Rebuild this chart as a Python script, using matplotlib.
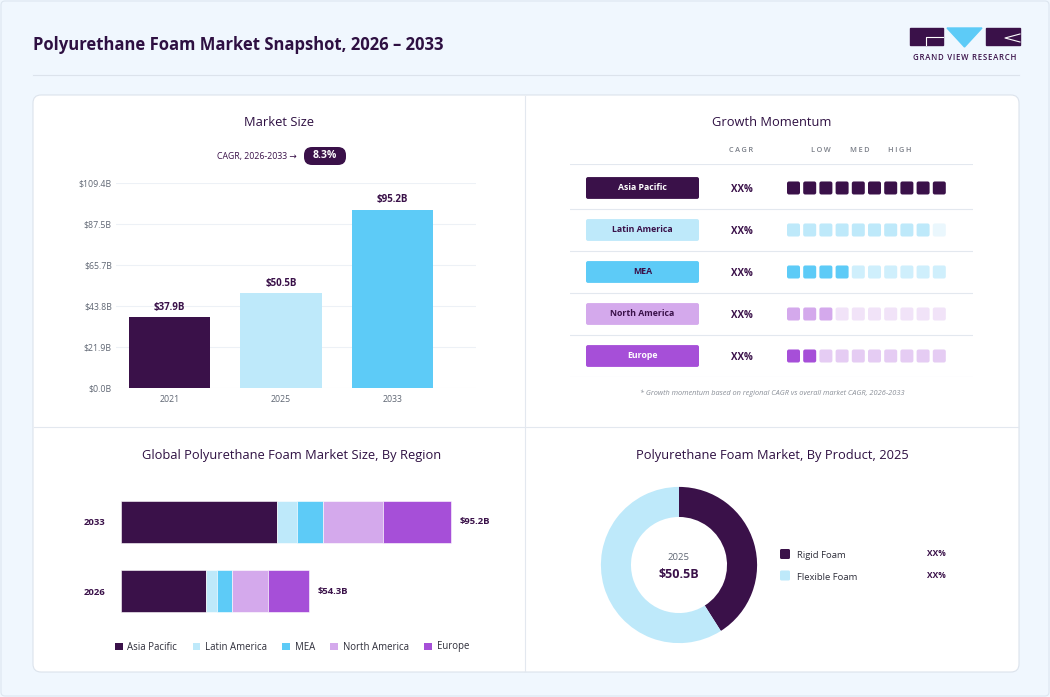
import matplotlib
matplotlib.use("Agg")
import matplotlib.pyplot as plt
from matplotlib.patches import FancyBboxPatch, Polygon, Patch

plt.rcParams["font.family"] = ["Open Sans", "DejaVu Sans"]

# ── Data ──────────────────────────────────────────────
YEARS = ["2021", "2025", "2033"]
MARKET_SIZE = [37.9, 50.5, 95.2]
Y_TICKS = [0.0, 21.9, 43.8, 65.7, 87.5, 109.4]
CAGR_TEXT = "CAGR, 2026-2033 \u2192"
CAGR_VALUE = "8.3%"

REGIONS = ["Asia Pacific", "Latin America", "MEA", "North America", "Europe"]
MOMENTUM_FILLED = [10, 9, 4, 3, 2]
MOMENTUM_CAGR = ["XX%", "XX%", "XX%", "XX%", "XX%"]
MOMENTUM_HEADERS = ["CAGR", "LOW", "MED", "HIGH"]

STACK_YEARS = ["2026", "2033"]
REGION_2026 = [24.5, 3.2, 4.4, 10.2, 12.0]
REGION_2033 = [45.0, 5.9, 7.5, 17.1, 19.7]
STACK_TOTALS = ["$54.3B", "$95.2B"]

PRODUCTS = ["Rigid Foam", "Flexible Foam"]
PRODUCT_SHARE = [41, 59]
PRODUCT_LABELS = ["XX%", "XX%"]
DONUT_YEAR = "2025"
DONUT_TOTAL = "$50.5B"

# ── Visual style ──────────────────────────────────────
DARK = "#3A1149"
TITLE = "#2E1042"
LIGHT_BLUE = "#BEE9FA"
BLUE = "#5DCBF7"
LAVENDER = "#D4A9EC"
PURPLE = "#A64FD8"
REGION_COLORS = [DARK, LIGHT_BLUE, BLUE, LAVENDER, PURPLE]
MOMENTUM_EMPTY = [DARK, "#EAF7FD", "#CFEFFC", "#F1E3F8", "#E5CCF3"]
PILL_TEXT = ["white", DARK, DARK, DARK, "white"]
BAR_COLORS = [DARK, LIGHT_BLUE, BLUE]
LINE = "#E3E8EF"
GREY = "#5F6673"

W, H = 1050, 697
fig = plt.figure(figsize=(W / 100, H / 100), dpi=100)
fig.patch.set_facecolor("#F0F7FE")


def px_axes(x0, y0, x1, y1, **kw):
    return fig.add_axes([x0 / W, 1 - y1 / H, (x1 - x0) / W, (y1 - y0) / H], **kw)


# background / layout layer in pixel coordinates
bg = px_axes(0, 0, W, H)
bg.set_xlim(0, W)
bg.set_ylim(H, 0)
bg.axis("off")
bg.add_patch(FancyBboxPatch((1, 1), W - 2, H - 2, boxstyle="round,pad=0,rounding_size=4",
                            facecolor="#F0F7FE", edgecolor="#DDE6F0", lw=0.8))
bg.add_patch(FancyBboxPatch((33, 95), 986, 577, boxstyle="round,pad=0,rounding_size=8",
                            facecolor="white", edgecolor="#DCE3EC", lw=0.8))
bg.plot([33, 1019], [75, 75], color="#DCE3EC", lw=0.8)
bg.plot([525, 525], [96, 671], color=LINE, lw=0.8)
bg.plot([34, 1018], [427, 427], color=LINE, lw=0.8)

bg.text(33, 45, "Polyurethane Foam Market Snapshot, 2026 \u2013 2033", fontsize=12,
        fontweight="bold", color=TITLE, ha="left", va="center")

# logo
bg.add_patch(Polygon([(910, 28), (943, 28), (943, 45), (910, 45)], closed=True, color=DARK))
bg.plot([926, 926, 943], [45, 37, 37], color="white", lw=0.8)
bg.add_patch(Polygon([(947, 28), (982, 28), (964.5, 47)], closed=True, color=BLUE))
bg.add_patch(Polygon([(986, 28), (1020, 28), (1020, 45), (986, 45)], closed=True, color=DARK))
bg.plot([1020, 1005, 1020], [34, 38, 42], color="white", lw=0.8)
bg.text(965, 57, "\u200a".join("GRAND VIEW RESEARCH"), fontsize=5.6, color=DARK,
        ha="center", va="center", fontweight="semibold")

# panel titles
for x, y, t in [(279, 123, "Market Size"), (772, 123, "Growth Momentum"),
                (292, 456, "Global Polyurethane Foam Market Size, By Region"),
                (772, 456, "Polyurethane Foam Market, By Product, 2025")]:
    bg.text(x, y, t, fontsize=9.3, color=TITLE, ha="center", va="center",
            fontweight="medium")

# ── Market size bars ──────────────────────────────────
bg.text(297, 156, CAGR_TEXT, fontsize=6.3, color=DARK, ha="right", va="center")
bg.add_patch(FancyBboxPatch((304, 147), 42, 18, boxstyle="round,pad=0,rounding_size=8",
                            facecolor=DARK, edgecolor="none"))
bg.text(325, 156, CAGR_VALUE, fontsize=7.5, color="white", fontweight="bold",
        ha="center", va="center")

ax1 = px_axes(116, 183, 476, 388)
x = range(len(YEARS))
ax1.bar(x, MARKET_SIZE, width=0.73, color=BAR_COLORS, zorder=3)
for i, v in enumerate(MARKET_SIZE):
    ax1.annotate(f"${v}B", (i, v), xytext=(0, 3), textcoords="offset points",
                 ha="center", va="bottom", fontsize=7, fontweight="bold", color=DARK)
ax1.set_xlim(-0.48, 2.75)
ax1.set_ylim(0, 109.4)
ax1.set_xticks(list(x), YEARS)
ax1.set_yticks(Y_TICKS, [f"${v:.1f}B" for v in Y_TICKS])
ax1.tick_params(length=0, labelsize=6.3, colors=GREY)
ax1.tick_params(axis="x", pad=5)
ax1.tick_params(axis="y", pad=3)
ax1.grid(axis="y", color="#EDF1F6", lw=0.8, zorder=0)
for s in ax1.spines.values():
    s.set_visible(False)
ax1.set_facecolor("none")

# ── Growth momentum table ─────────────────────────────
for t, xh in zip(MOMENTUM_HEADERS, [741, 821, 860, 900]):
    bg.text(xh, 151, "\u2009".join(t), fontsize=5.3, color="#7A7F88", ha="center",
            va="center", fontweight="semibold")

ax2 = px_axes(570, 164, 973, 377)
ax2.set_xlim(0, 403)
ax2.set_ylim(4.5, -0.571)
ax2.axis("off")
ax2.axhline(-0.571, color=LINE, lw=0.8)
asp = 1 / 42
for i, region in enumerate(REGIONS):
    ax2.axhline(i + 0.5, color=LINE, lw=0.8)
    ax2.add_patch(FancyBboxPatch((16, i - 0.26), 113, 0.52,
                                 boxstyle="round,pad=0,rounding_size=2",
                                 mutation_aspect=asp, facecolor=REGION_COLORS[i],
                                 edgecolor="none"))
    ax2.text(72.5, i, region, fontsize=6.3, fontweight="bold", color=PILL_TEXT[i],
             ha="center", va="center")
    ax2.text(172, i + 0.03, MOMENTUM_CAGR[i], fontsize=7, fontweight="bold", color=DARK,
             ha="center", va="center")
    for j in range(10):
        c = REGION_COLORS[i] if j < MOMENTUM_FILLED[i] else MOMENTUM_EMPTY[i]
        ax2.add_patch(FancyBboxPatch((217 + j * 16.2, i - 0.155), 13, 0.31,
                                     boxstyle="round,pad=0,rounding_size=2",
                                     mutation_aspect=asp, facecolor=c, edgecolor="none"))

bg.text(772, 393, "* Growth momentum based on regional CAGR vs overall market CAGR, 2026-2033",
        fontsize=5.3, style="italic", color="#8A8F98", ha="center", va="center")

# ── Stacked region bars ───────────────────────────────
ax3 = px_axes(121, 470, 471, 643)
ax3.set_xlim(0, 101.0)
ax3.set_ylim(-0.75, 1.75)
left = [0.0, 0.0]
for k, color in enumerate(REGION_COLORS):
    vals = [REGION_2026[k], REGION_2033[k]]
    ax3.barh([0, 1], vals, left=left, height=0.61, color=color,
             edgecolor="white", linewidth=0.4)
    left = [left[0] + vals[0], left[1] + vals[1]]
for yi, (tot, lab) in enumerate(zip(left, STACK_TOTALS)):
    ax3.annotate(lab, (tot, yi), xytext=(6, 0), textcoords="offset points",
                 ha="left", va="center", fontsize=6.8, fontweight="bold", color=DARK)
ax3.set_yticks([0, 1], STACK_YEARS)
ax3.set_xticks([])
ax3.tick_params(length=0, pad=11.5, labelsize=6.8, labelcolor=DARK)
for lbl in ax3.get_yticklabels():
    lbl.set_fontweight("bold")
for s in ax3.spines.values():
    s.set_visible(False)
ax3.set_facecolor("none")

handles = [Patch(facecolor=c, edgecolor="none") for c in REGION_COLORS]
fig.legend(handles, REGIONS, loc="center", bbox_to_anchor=(292 / W, 1 - 647 / H), ncol=5,
           frameon=False, fontsize=6.9, handlelength=0.8, handleheight=0.8,
           columnspacing=1.6, handletextpad=0.5, labelcolor="#2E2E3A")

# ── Product donut ─────────────────────────────────────
ax4 = px_axes(597, 483, 761, 647)
ax4.pie(PRODUCT_SHARE, colors=[DARK, LIGHT_BLUE], startangle=90, counterclock=False,
        radius=1, wedgeprops=dict(width=0.385, edgecolor="none"))
ax4.set_xlim(-1.05, 1.05)
ax4.set_ylim(-1.05, 1.05)
ax4.set_aspect("equal")
ax4.text(0, 0.09, DONUT_YEAR, fontsize=6.8, color=GREY, ha="center", va="center")
ax4.text(0, -0.12, DONUT_TOTAL, fontsize=9, fontweight="bold", color=DARK,
         ha="center", va="center")

for k, (name, lab) in enumerate(zip(PRODUCTS, PRODUCT_LABELS)):
    yk = 554 + k * 21.5
    bg.add_patch(FancyBboxPatch((780, yk - 5), 10, 10, boxstyle="round,pad=0,rounding_size=1.5",
                                facecolor=[DARK, LIGHT_BLUE][k], edgecolor="none"))
    bg.text(797, yk + 2, name, fontsize=6.8, color="#2E2E3A", ha="left", va="center")
    bg.text(936, yk, lab, fontsize=6, fontweight="bold", color=DARK, ha="center",
            va="center")

plt.savefig("out.png", dpi=100)
